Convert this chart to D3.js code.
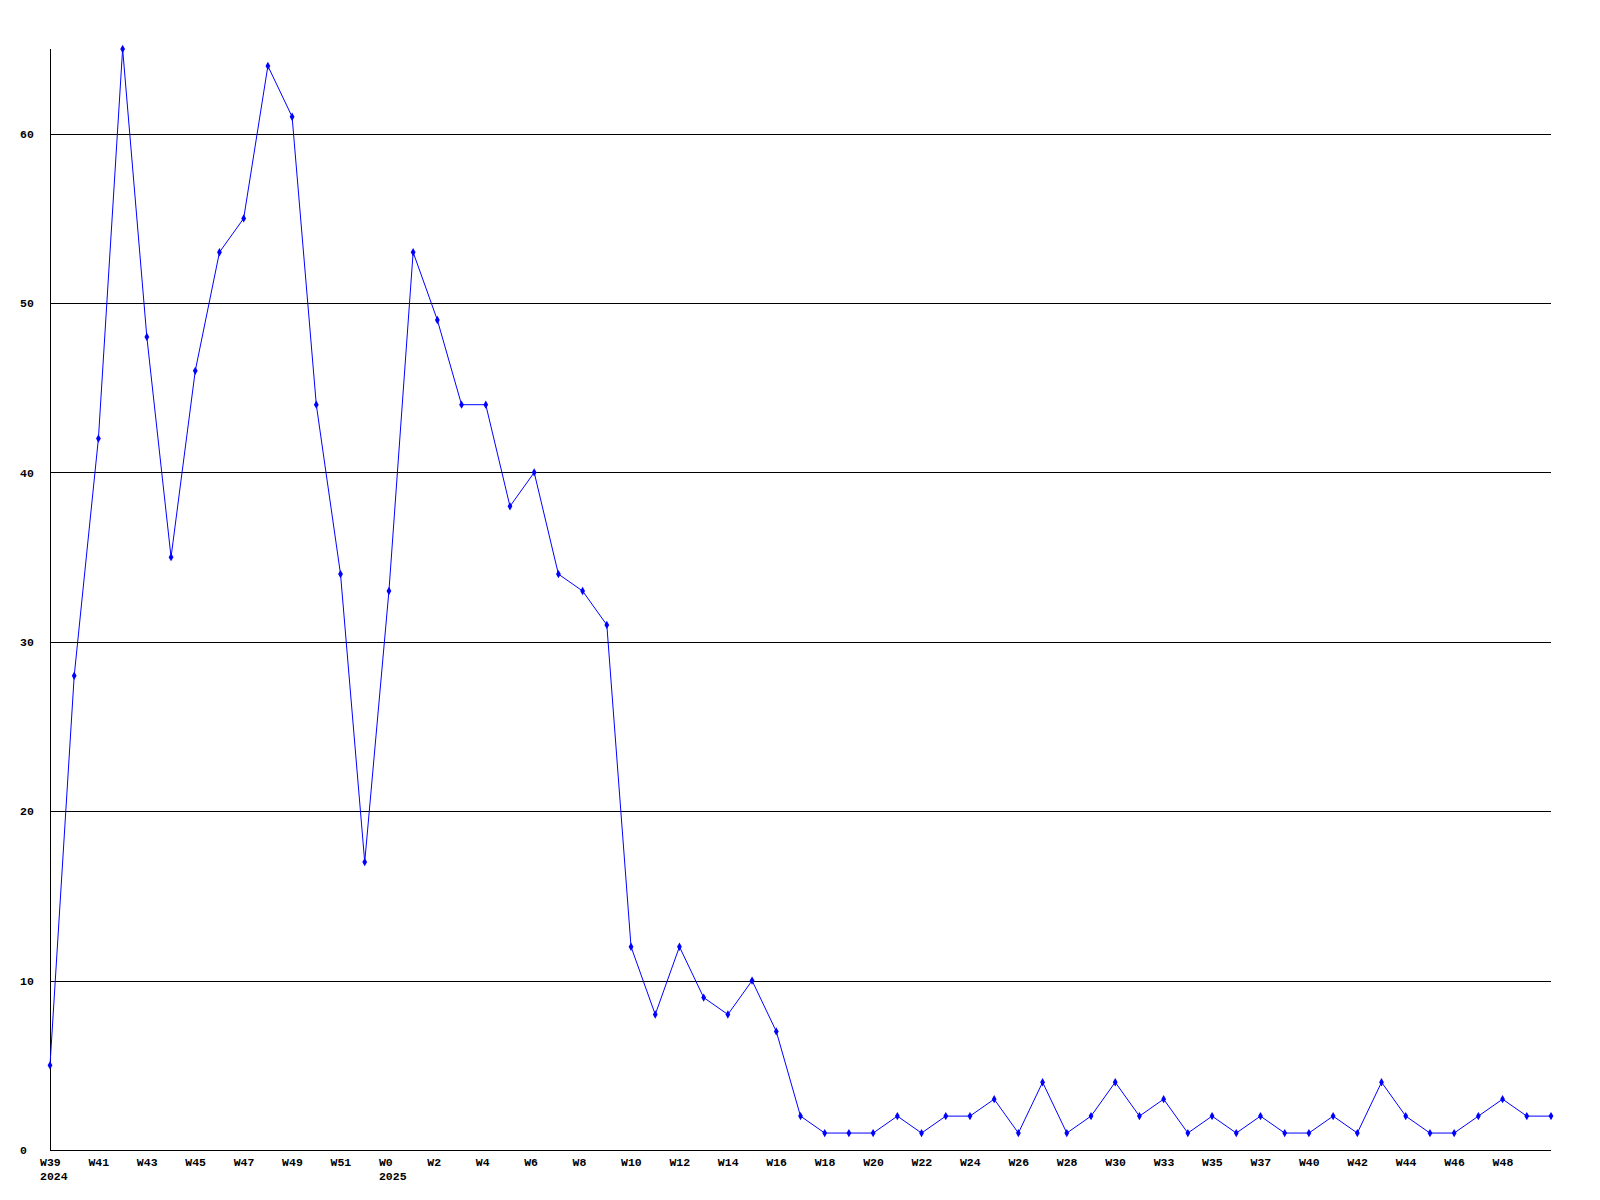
<!DOCTYPE html>
<html>
<head>
<meta charset="utf-8">
<script src="https://cdn.jsdelivr.net/npm/d3@7"></script>
<style>
  html, body { margin: 0; padding: 0; background: #ffffff; }
  svg { display: block; }
</style>
</head>
<body>
<svg id="chart" width="1600" height="1200"></svg>
<script>
// ---- data ----
const weeks = [
  "W39","W40","W41","W42","W43","W44","W45","W46","W47","W48","W49","W50","W51","W52",
  "W0","W1","W2","W3","W4","W5","W6","W7","W8","W9","W10","W11","W12","W13","W14","W15",
  "W16","W17","W18","W19","W20","W21","W22","W23","W24","W25","W26","W27","W28","W29","W30",
  "W31","W33","W34","W35","W36","W37","W38","W40","W41","W42","W43","W44","W45","W46","W47",
  "W48","W49","W50"
];
const years = [
  "2024","2024","2024","2024","2024","2024","2024","2024","2024","2024","2024","2024","2024","2024",
  "2025","2025","2025","2025","2025","2025","2025","2025","2025","2025","2025","2025","2025","2025","2025","2025",
  "2025","2025","2025","2025","2025","2025","2025","2025","2025","2025","2025","2025","2025","2025","2025",
  "2025","2025","2025","2025","2025","2025","2025","2025","2025","2025","2025","2025","2025","2025","2025",
  "2025","2025","2025"
];
const counts = [
  5,28,42,65,48,35,46,53,55,64,61,44,34,17,
  33,53,49,44,44,38,40,34,33,31,12,8,12,9,8,10,
  7,2,1,1,1,2,1,2,2,3,1,4,1,2,4,
  2,3,1,2,1,2,1,1,2,1,4,2,1,1,2,
  3,2,2
];
const yTicks = [0,10,20,30,40,50,60];

// ---- layout ----
const svg = d3.select("#chart");
const mLeft = 50, mRight = 1551, mTop = 49, mBottom = 1150;
const font = "'Liberation Mono', 'DejaVu Sans Mono', monospace";

const idx = d3.range(weeks.length);
const x = d3.scalePoint().domain(idx).range([mLeft, mRight]);
const y = d3.scaleLinear().domain([0, 65]).range([mBottom, mTop]);

// gridlines + y labels
const yAxis = d3.axisLeft(y).tickValues(yTicks).tickSize(-(mRight - mLeft)).tickFormat(d3.format("d"));
const gy = svg.append("g").attr("transform", `translate(${mLeft},0)`).call(yAxis);
gy.select(".domain").remove();
gy.selectAll(".tick line").attr("stroke", "#000").attr("stroke-width", 1).attr("shape-rendering", "crispEdges");
gy.selectAll(".tick text")
  .attr("x", -30).attr("text-anchor", "start")
  .attr("font-family", font).attr("font-weight", "bold").attr("font-size", "11.5px").attr("fill", "#000");

// x axis labels (every second week, last point unlabeled)
const xAxis = d3.axisBottom(x)
  .tickValues(idx.filter(i => i % 2 === 0 && i < weeks.length - 1))
  .tickSize(0)
  .tickFormat(i => weeks[i]);
const gx = svg.append("g").attr("transform", `translate(0,${mBottom})`).call(xAxis);
gx.select(".domain").remove();
gx.selectAll(".tick text")
  .attr("y", 8).attr("x", -10.5).attr("text-anchor", "start")
  .attr("font-family", font).attr("font-weight", "bold").attr("font-size", "11.5px").attr("fill", "#000");
gx.selectAll(".tick").each(function(i) {
  if (i === 0 || years[i] !== years[i - 1]) {
    d3.select(this).append("text")
      .attr("x", -10.5).attr("y", 22).attr("dy", "0.71em")
      .attr("text-anchor", "start")
      .attr("font-family", font).attr("font-weight", "bold").attr("font-size", "11.5px").attr("fill", "#000")
      .text(years[i]);
  }
});

// axis lines
svg.append("line").attr("x1", mLeft).attr("x2", mLeft).attr("y1", mTop).attr("y2", mBottom)
  .attr("stroke", "#000").attr("shape-rendering", "crispEdges");
svg.append("line").attr("x1", mLeft).attr("x2", mRight).attr("y1", mBottom).attr("y2", mBottom)
  .attr("stroke", "#000").attr("shape-rendering", "crispEdges");

// series line
const line = d3.line().x((d, i) => x(i)).y(d => y(d));
svg.append("path").datum(counts)
  .attr("d", line).attr("fill", "none").attr("stroke", "#0000ff").attr("stroke-width", 1);

// markers
svg.append("g").selectAll("path").data(counts).join("path")
  .attr("transform", (d, i) => `translate(${x(i)},${y(d)})`)
  .attr("d", d3.symbol().type(d3.symbolDiamond).size(20))
  .attr("fill", "#0000ff");
</script>
</body>
</html>
